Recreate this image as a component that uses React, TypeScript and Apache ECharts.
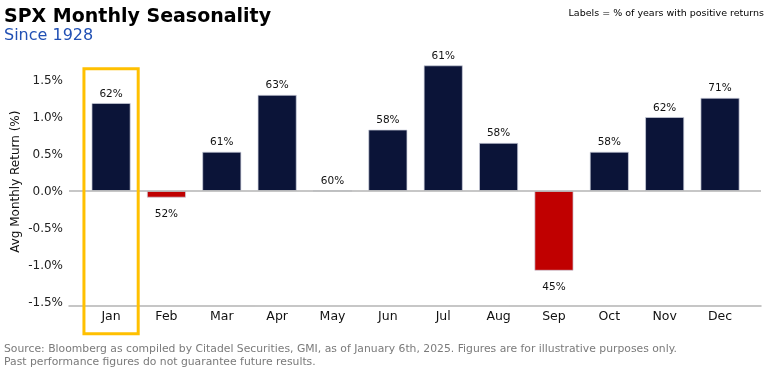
import React, { useEffect, useRef } from "react";
import * as echarts from "echarts";

const months = ["Jan", "Feb", "Mar", "Apr", "May", "Jun", "Jul", "Aug", "Sep", "Oct", "Nov", "Dec"];
const avgReturns = [1.19, -0.09, 0.53, 1.3, 0.0, 0.83, 1.7, 0.65, -1.08, 0.53, 1.0, 1.26];
const positivePct = [62, 52, 61, 63, 60, 58, 61, 58, 45, 58, 62, 71];
const yTicks = [-1.5, -1.0, -0.5, 0.0, 0.5, 1.0, 1.5];
const highlightMonth = "Jan";

const FONT = "DejaVu Sans";
const NAVY = "#0b1438";
const RED = "#c00000";

export default function App() {
  const ref = useRef<HTMLDivElement>(null);
  useEffect(() => {
    if (!ref.current) return;
    const chart = echarts.init(ref.current, undefined, { renderer: "svg" });
    const xIdx = months.map((_, i) => i);
    chart.setOption({
      animation: false,
      grid: { left: 69, right: 8, top: 58, bottom: 65.6, containLabel: false, outerBoundsMode: "none" },
      xAxis: {
        type: "value",
        min: -0.76,
        max: 11.74,
        position: "bottom",
        axisLine: { onZero: false, lineStyle: { color: "#b4b4b4", width: 1.5 } },
        axisTick: { show: false },
        splitLine: { show: false },
        axisLabel: {
          customValues: xIdx,
          formatter: (v: number) => months[Math.round(v)] ?? "",
          fontFamily: FONT,
          fontSize: 12.5,
          color: "#111",
          margin: 4,
        },
      },
      yAxis: {
        type: "value",
        min: -1.55,
        max: 1.8,
        name: "Avg Monthly Return (%)",
        nameLocation: "middle",
        nameGap: 48,
        nameMoveOverlap: false,
        nameTextStyle: { fontFamily: FONT, fontSize: 12, color: "#111" },
        axisLine: { show: false },
        axisTick: { show: false },
        splitLine: { show: false },
        axisLabel: {
          customValues: yTicks,
          formatter: (v: number) => v.toFixed(1) + "%",
          fontFamily: FONT,
          fontSize: 12,
          color: "#222",
          margin: 6,
        },
      },
      series: [
        {
          type: "bar",
          barWidth: 39,
          data: avgReturns.map((v, i) => ({
            value: [i, v],
            itemStyle: { color: v < 0 ? RED : NAVY },
            label: { position: v < 0 ? "bottom" : "top", distance: v < 0 ? 10 : 5 },
          })),
          itemStyle: { borderColor: "rgba(205,208,220,0.9)", borderWidth: 0.8 },
          label: {
            show: true,
            formatter: (p: any) => positivePct[p.dataIndex] + "%",
            fontFamily: FONT,
            fontSize: 10.5,
            color: "#111",
          },
          markLine: {
            silent: true,
            symbol: ["none", "none"],
            label: { show: false },
            lineStyle: { color: "#b4b4b4", width: 1.5, type: "solid" },
            data: [{ yAxis: 0 }],
          },
        },
      ],
    });

    const hi = months.indexOf(highlightMonth);
    const cx = chart.convertToPixel({ xAxisIndex: 0 }, hi) as number;
    const step = (chart.convertToPixel({ xAxisIndex: 0 }, hi + 1) as number) - cx;

    chart.setOption({
      graphic: [
        {
          type: "text",
          x: 4,
          y: 15,
          style: {
            text: "SPX Monthly Seasonality",
            fontFamily: FONT,
            fontSize: 19,
            fontWeight: "bold",
            fill: "#000",
            verticalAlign: "middle",
          },
        },
        {
          type: "text",
          x: 4,
          y: 34,
          style: {
            text: "Since 1928",
            fontFamily: FONT,
            fontSize: 16,
            fill: "#2150b4",
            verticalAlign: "middle",
          },
        },
        {
          type: "text",
          x: 764,
          y: 12,
          style: {
            text: "Labels = % of years with positive returns",
            fontFamily: FONT,
            fontSize: 9.5,
            fill: "#000",
            align: "right",
            verticalAlign: "middle",
          },
        },
        {
          type: "text",
          x: 4,
          y: 355,
          style: {
            text:
              "Source: Bloomberg as compiled by Citadel Securities, GMI, as of January 6th, 2025. Figures are for illustrative purposes only.\nPast performance figures do not guarantee future results.",
            fontFamily: FONT,
            fontSize: 10.8,
            lineHeight: 12.5,
            fill: "#7a7a7a",
            verticalAlign: "middle",
          },
        },
        {
          type: "rect",
          z: 10,
          shape: { x: cx - step * 0.49, y: 68.8, width: step * 0.98, height: 265 },
          style: { fill: "none", stroke: "#ffc000", lineWidth: 3 },
        },
      ],
    });

    return () => chart.dispose();
  }, []);
  return (
    <div
      ref={ref}
      style={{ position: "fixed", left: 0, top: 0, width: 769, height: 371 }}
    />
  );
}
